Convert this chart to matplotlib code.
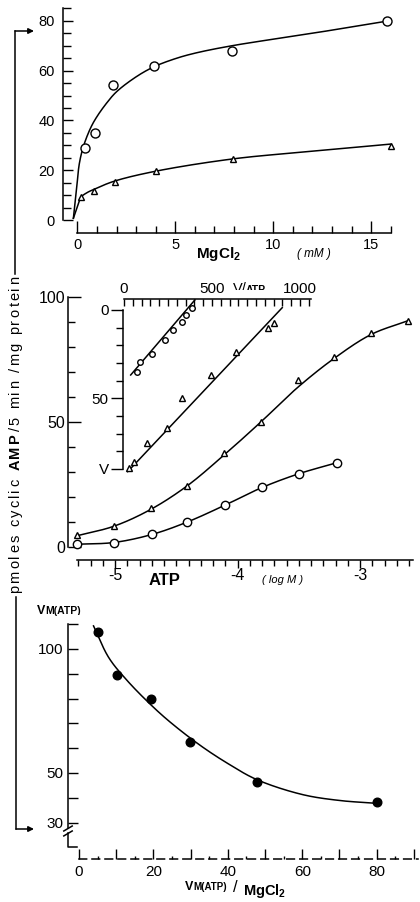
import numpy as np
import matplotlib
matplotlib.use("Agg")
import matplotlib.pyplot as plt
from matplotlib.ticker import FixedLocator, FixedFormatter
from matplotlib import font_manager as fm
from matplotlib.ft2font import FT2Font

plt.rcParams['font.family'] = ['Liberation Sans', 'DejaVu Sans']
plt.rcParams['mathtext.fontset'] = 'custom'
plt.rcParams['mathtext.rm'] = 'Liberation Sans'
plt.rcParams['mathtext.bf'] = 'Liberation Sans:bold'
plt.rcParams['mathtext.it'] = 'Liberation Sans:italic'
plt.rcParams['axes.unicode_minus'] = False

# ---------------- data: panel A (activity vs MgCl2) ----------------
mg_hi = [0.4, 0.9, 1.8, 3.9, 7.9, 15.8]          # 0.31 mM ATP
v_hi = [29.0, 34.8, 54.4, 62.0, 67.8, 80.0]
mg_lo = [0.2, 0.85, 1.9, 4.0, 7.95, 16.0]        # 0.038 mM ATP
v_lo = [9.1, 11.6, 15.4, 19.5, 24.5, 29.7]
fit_hi_x = [-0.2, -0.03, 0.1, 0.31, 0.68, 1.0, 1.5, 2.0, 3.0, 3.9, 5.0, 6.0, 7.9, 12.0, 15.9]
fit_hi_y = [0.7, 13.0, 22.5, 29.5, 37.0, 41.5, 47.0, 51.5, 57.5, 61.5, 64.8, 67.0, 70.0, 75.0, 80.0]
fit_lo_x = [-0.2, 0.05, 0.19, 0.5, 0.85, 1.85, 4.0, 8.0, 12.0, 16.0]
fit_lo_y = [0.7, 6.5, 9.2, 11.0, 12.3, 15.5, 19.6, 24.6, 27.6, 30.5]

# ---------------- data: panel B (activity vs log ATP) ----------------
log_atp_8 = [-5.31, -5.01, -4.71, -4.41, -4.11, -3.81, -3.51, -3.21, -2.91, -2.61]
v_8mM = [4.7, 8.3, 15.5, 24.3, 37.7, 50.1, 66.8, 75.9, 85.8, 90.5]
fit_8_y = [4.5, 8.3, 15.0, 24.5, 36.8, 50.0, 63.8, 75.5, 85.0, 90.5]
log_atp_1 = [-5.31, -5.01, -4.70, -4.41, -4.10, -3.80, -3.50, -3.19]
v_1mM = [1.1, 1.6, 5.3, 9.9, 16.8, 24.1, 29.1, 33.7]
fit_1_y = [1.1, 1.8, 5.0, 10.0, 16.8, 23.8, 29.3, 33.7]

# inset (V versus V/ATP)
ins_1_x = [72, 91, 157, 233, 280, 328, 352, 385]
ins_1_v = [35.3, 29.6, 25.1, 17.0, 11.3, 6.6, 2.8, -1.0]
ins_8_x = [28, 57, 132, 246, 328, 494, 635, 816, 854]
ins_8_v = [89.2, 85.9, 75.4, 66.6, 50.0, 36.8, 23.6, 10.0, 7.5]
ins_1_line_x = [38, 403]
ins_1_line_v = [36.8, -5.7]
ins_8_line_x = [21, 899]
ins_8_line_v = [91.5, -1.3]

# ---------------- data: panel C ----------------
ratio = [5.2, 10.1, 19.3, 29.8, 47.8, 80.0]
vm_atp = [106.7, 89.5, 79.8, 62.4, 46.5, 38.2]
fit_c_x = [3.9, 8.0, 12.8, 19.3, 24.5, 32.5, 40.0, 47.8, 60.0, 70.0, 79.5]
fit_c_y = [109.3, 96.5, 87.5, 77.5, 70.5, 61.2, 53.8, 47.3, 41.3, 38.9, 37.8]

ylabel_parts = [("pmoles cyclic ", 'normal'), ("AMP", 'bold'), ("/5 min /mg protein", 'normal')]


def smooth(xs, ys, sx=1.0, sy=1.0, n=30):
    """centripetal Catmull-Rom through the read-off curve points"""
    P = np.column_stack([np.asarray(xs, float) * sx, np.asarray(ys, float) * sy])
    P = np.vstack([2 * P[0] - P[1], P, 2 * P[-1] - P[-2]])
    out = []
    for i in range(1, len(P) - 2):
        p0, p1, p2, p3 = P[i - 1], P[i], P[i + 1], P[i + 2]
        t0 = 0.0
        t1 = t0 + np.linalg.norm(p1 - p0) ** 0.5
        t2 = t1 + np.linalg.norm(p2 - p1) ** 0.5
        t3 = t2 + np.linalg.norm(p3 - p2) ** 0.5
        t = np.linspace(t1, t2, n)[:, None]
        A1 = (t1 - t) / (t1 - t0) * p0 + (t - t0) / (t1 - t0) * p1
        A2 = (t2 - t) / (t2 - t1) * p1 + (t - t1) / (t2 - t1) * p2
        A3 = (t3 - t) / (t3 - t2) * p2 + (t - t2) / (t3 - t2) * p3
        B1 = (t2 - t) / (t2 - t0) * A1 + (t - t0) / (t2 - t0) * A2
        B2 = (t3 - t) / (t3 - t1) * A2 + (t - t1) / (t3 - t1) * A3
        C = (t2 - t) / (t2 - t1) * B1 + (t - t1) / (t2 - t1) * B2
        out.append(C if i == len(P) - 3 else C[:-1])
    C = np.vstack(out)
    return C[:, 0] / sx, C[:, 1] / sy


W, H = 420, 902
fig = plt.figure(figsize=(W / 100, H / 100), dpi=100)
fig.patch.set_facecolor('white')

ax0 = fig.add_axes([0, 0, 1, 1])
ax0.set_xlim(0, W)
ax0.set_ylim(H, 0)
ax0.axis('off')


def px_axes(l, t, r, b):
    return fig.add_axes([l / W, 1 - b / H, (r - l) / W, (b - t) / H])


LW = 1.1
K = 'black'

# ================= Panel A =================
axA = px_axes(63, 5, 405, 232.7)
axA.set_xlim(-0.73, 16.72)
axA.set_ylim(-5.10, 86.35)
for s in ('top', 'right'):
    axA.spines[s].set_visible(False)
axA.spines['left'].set_bounds(0, 85)
axA.spines['bottom'].set_bounds(0, 16)
for s in ('left', 'bottom'):
    axA.spines[s].set_linewidth(LW)
axA.yaxis.set_major_locator(FixedLocator([0, 20, 40, 60, 80]))
axA.yaxis.set_minor_locator(FixedLocator([5, 10, 15, 25, 30, 35, 45, 50, 55, 65, 70, 75, 85]))
axA.xaxis.set_major_locator(FixedLocator([0, 5, 10, 15]))
axA.xaxis.set_minor_locator(FixedLocator([1, 2, 3, 4, 6, 7, 8, 9, 11, 12, 13, 14, 16]))
axA.tick_params(axis='y', which='major', direction='in', length=7, width=1, labelsize=10.5, pad=6)
axA.tick_params(axis='y', which='minor', direction='in', length=6, width=1)
axA.tick_params(axis='x', which='major', direction='in', length=9, width=1, labelsize=10.5, pad=4)
axA.tick_params(axis='x', which='minor', direction='in', length=5, width=1)

x, y = smooth(fit_hi_x, fit_hi_y, 19.6, 2.49)
axA.plot(x, y, color=K, lw=LW, zorder=2)
x, y = smooth(fit_lo_x, fit_lo_y, 19.6, 2.49)
axA.plot(x, y, color=K, lw=LW, zorder=2)
axA.plot(mg_hi, v_hi, 'o', ms=6.5, mfc='white', mec=K, mew=1.0, zorder=3, clip_on=False)
axA.plot(mg_lo, v_lo, '^', ms=4.5, mfc='white', mec=K, mew=1.0, zorder=3, clip_on=False)

ax0.text(258, 21.5, "0.31 mM ATP", style='italic', weight='bold', fontsize=7.5, va='baseline')
ax0.text(262, 146.5, "0.038 mM ATP", style='italic', weight='bold', fontsize=7.5, va='baseline')
ax0.text(218, 258, r"$\mathbf{MgCl}_{\mathbf{2}}$", fontsize=11, ha='center', va='baseline')
ax0.text(297, 257, "( mM )", style='italic', fontsize=8.5, va='baseline')

# ================= Panel B =================
axB = px_axes(68, 290, 418, 560)
axB.set_xlim(-5.384, -2.527)
axB.set_ylim(-5.2, 102.8)
for s in ('top', 'right'):
    axB.spines[s].set_visible(False)
axB.spines['left'].set_bounds(0, 100)
axB.spines['bottom'].set_bounds(-5.31, -2.57)
for s in ('left', 'bottom'):
    axB.spines[s].set_linewidth(LW)
axB.yaxis.set_major_locator(FixedLocator([0, 50, 100]))
axB.yaxis.set_minor_locator(FixedLocator([10, 20, 30, 40, 60, 70, 80, 90]))
axB.xaxis.set_major_locator(FixedLocator([-5, -4, -3]))
axB.xaxis.set_minor_locator(FixedLocator([-5.3, -5.2, -5.1, -4.9, -4.8, -4.7, -4.6, -4.5, -4.4, -4.3,
                                          -4.2, -4.1, -3.9, -3.8, -3.7, -3.6, -3.5, -3.4, -3.3, -3.2,
                                          -3.1, -2.9, -2.8, -2.7, -2.6]))
axB.tick_params(axis='y', which='major', direction='in', length=9, width=1, labelsize=11.5, pad=2)
axB.tick_params(axis='y', which='minor', direction='in', length=5, width=1)
axB.tick_params(axis='x', which='major', direction='out', length=6, width=1, labelsize=11.5, pad=0)
axB.tick_params(axis='x', which='minor', direction='out', length=4.5, width=1)

x, y = smooth(log_atp_8, fit_8_y, 122.5, 2.5)
axB.plot(x, y, color=K, lw=LW, zorder=2)
x, y = smooth(log_atp_1, fit_1_y, 122.5, 2.5)
axB.plot(x, y, color=K, lw=LW, zorder=2)
axB.plot(log_atp_8, v_8mM, '^', ms=4.5, mfc='white', mec=K, mew=1.0, zorder=3, clip_on=False)
axB.plot(log_atp_1, v_1mM, 'o', ms=6, mfc='white', mec=K, mew=1.0, zorder=3, clip_on=False)

ax0.text(165, 585, "ATP", weight='bold', fontsize=12, ha='center', va='baseline')
ax0.text(262, 583, "( log M )", style='italic', fontsize=8, va='baseline')
ax0.text(355, 353, "8 mM Mg²⁺", style='italic', weight='bold', fontsize=7, va='baseline')
ax0.text(345, 458, "1 mM Mg²⁺", style='italic', weight='bold', fontsize=7, va='baseline')

# ---------------- inset ----------------
axI = px_axes(123.3, 299, 315, 472)
axI.set_facecolor('none')
axI.set_xlim(-4, 1085)
axI.set_ylim(91.7, -6.2)
for s in ('bottom', 'right'):
    axI.spines[s].set_visible(False)
axI.spines['top'].set_bounds(0, 1065)
axI.spines['left'].set_bounds(0, 90)
for s in ('left', 'top'):
    axI.spines[s].set_linewidth(LW)
axI.xaxis.tick_top()
axI.xaxis.set_major_locator(FixedLocator([0, 500, 1000]))
axI.xaxis.set_minor_locator(FixedLocator([50, 100, 150, 200, 250, 300, 350, 400, 450, 550, 600,
                                          650, 700, 750, 800, 850, 900, 950, 1050]))
axI.yaxis.set_major_locator(FixedLocator([0, 50, 90]))
axI.yaxis.set_major_formatter(FixedFormatter(['0', '50', 'V']))
axI.yaxis.set_minor_locator(FixedLocator([10, 20, 30, 40, 60, 70, 80]))
axI.tick_params(axis='x', which='both', direction='in', length=5, width=1, labelsize=11, pad=2)
axI.tick_params(axis='y', which='major', direction='out', length=9, width=1, labelsize=11, pad=1.5)
axI.tick_params(axis='y', which='minor', direction='out', length=5, width=1)

axI.plot(ins_1_line_x, ins_1_line_v, color=K, lw=LW, zorder=2, clip_on=False)
axI.plot(ins_8_line_x, ins_8_line_v, color=K, lw=LW, zorder=2, clip_on=False)
axI.plot(ins_1_x, ins_1_v, 'o', ms=4, mfc='white', mec=K, mew=1.0, zorder=3, clip_on=False)
axI.plot(ins_8_x, ins_8_v, '^', ms=4.5, mfc='white', mec=K, mew=1.0, zorder=3, clip_on=False)

ax0.text(233, 293, "V/", fontsize=10.5, va='baseline')
ax0.text(245.5, 293, "ATP", weight='bold', fontsize=7.5, va='baseline')

ax0.text(203, 324, "Mg²⁺", style='italic', weight='bold', fontsize=6.5, va='baseline')
ax0.plot([202, 215], [326.5, 326.5], color=K, lw=0.9)
ax0.text(161, 351, "1mM", style='italic', weight='bold', fontsize=6, va='baseline')
ax0.text(197, 362, "8 m M", style='italic', weight='bold', fontsize=6, va='baseline')
ax0.annotate('', xy=(183, 348), xytext=(209, 328),
             arrowprops=dict(arrowstyle='-|>', lw=0.8, color=K, mutation_scale=5, shrinkA=0, shrinkB=0))
ax0.annotate('', xy=(221, 356), xytext=(213, 329),
             arrowprops=dict(arrowstyle='-|>', lw=0.8, color=K, mutation_scale=5, shrinkA=0, shrinkB=0))

# ================= Panel C =================
axC = px_axes(68, 615, 418, 859)
axC.set_xlim(-2.96, 91.1)
axC.set_ylim(15.3, 113.7)
for s in ('top', 'right'):
    axC.spines[s].set_visible(False)
axC.spines['left'].set_bounds(27.8, 110)
axC.spines['bottom'].set_bounds(0, 91)
axC.spines['bottom'].set_linestyle((0, (5, 3.5)))
for s in ('left', 'bottom'):
    axC.spines[s].set_linewidth(LW)
yt = [30, 40, 50, 60, 70, 80, 90, 100, 110]
axC.yaxis.set_major_locator(FixedLocator(yt))
axC.yaxis.set_major_formatter(FixedFormatter(['30', '', '50', '', '', '', '', '100', '']))
xt = [0, 10, 20, 30, 40, 50, 60, 70, 80, 90]
axC.xaxis.set_major_locator(FixedLocator(xt))
axC.xaxis.set_major_formatter(FixedFormatter(['0', '', '20', '', '40', '', '60', '', '80', '']))
axC.xaxis.set_minor_locator(FixedLocator([5, 15, 25, 35, 45, 55, 65, 75, 85]))
axC.tick_params(axis='y', which='major', direction='in', length=7, width=1, labelsize=11, pad=3)
axC.tick_params(axis='x', which='major', direction='in', length=7, width=1, labelsize=11, pad=4)
axC.tick_params(axis='x', which='minor', direction='in', length=2.5, width=1)

tr = axC.get_yaxis_transform()
axC.plot([0, 0, 0.026], [25.8, 20.3, 20.3], color=K, lw=LW, transform=tr, clip_on=False)
axC.plot([-0.012, 0.012], [26.6, 28.6], color=K, lw=LW, transform=tr, clip_on=False)
axC.plot([-0.012, 0.012], [24.6, 26.6], color=K, lw=LW, transform=tr, clip_on=False)

x, y = smooth(fit_c_x, fit_c_y, 3.72, 2.48)
axC.plot(x, y, color=K, lw=LW, zorder=2)
axC.plot(ratio, vm_atp, 'o', ms=6.2, mfc=K, mec=K, zorder=3, clip_on=False)

ax0.text(37, 614, "V", weight='bold', fontsize=9, va='baseline')
ax0.text(45.5, 614, "M(ATP)", weight='bold', fontsize=7.5, va='baseline')
ax0.text(185, 890, "V", weight='bold', fontsize=9, va='baseline')
ax0.text(193.5, 890, "M(ATP)", weight='bold', fontsize=7, va='baseline')
ax0.text(233, 892, "/", fontsize=12, va='baseline')
ax0.text(243, 895, r"$\mathbf{MgCl}_{\mathbf{2}}$", fontsize=10.5, va='baseline')

# ================= shared y label (letter-spaced, rotated) with bracket =================
LAB_SIZE = 10.5
y_bottom, y_top, x_base = 593.0, 276.0, 19.5
chars = []
for txt, wt in ylabel_parts:
    fpath = fm.findfont(fm.FontProperties(family='Liberation Sans', weight=wt))
    ft = FT2Font(fpath)
    ft.set_size(LAB_SIZE, 72)
    for ch in txt:
        g = ft.load_char(ord(ch))
        chars.append((ch, wt, g.linearHoriAdvance / 65536.0 * 100 / 72))
natural = sum(c[2] for c in chars)
track = max(0.0, ((y_bottom - y_top) - natural) / (len(chars) - 1))
ycur = y_bottom
for ch, wt, adv in chars:
    if ch != ' ':
        ax0.text(x_base, ycur, ch, rotation=90, rotation_mode='anchor', ha='left', va='baseline',
                 fontsize=LAB_SIZE, weight=wt)
    ycur -= adv + track

ax0.plot([15, 15], [31, 274], color=K, lw=LW)
ax0.plot([16, 16], [597, 829], color=K, lw=LW)
ax0.annotate('', xy=(34, 31), xytext=(15, 31),
             arrowprops=dict(arrowstyle='-|>', lw=LW, color=K, mutation_scale=8, shrinkA=0, shrinkB=0))
ax0.annotate('', xy=(34, 829), xytext=(16, 829),
             arrowprops=dict(arrowstyle='-|>', lw=LW, color=K, mutation_scale=8, shrinkA=0, shrinkB=0))

fig.savefig("out.png", dpi=100, facecolor='white')
